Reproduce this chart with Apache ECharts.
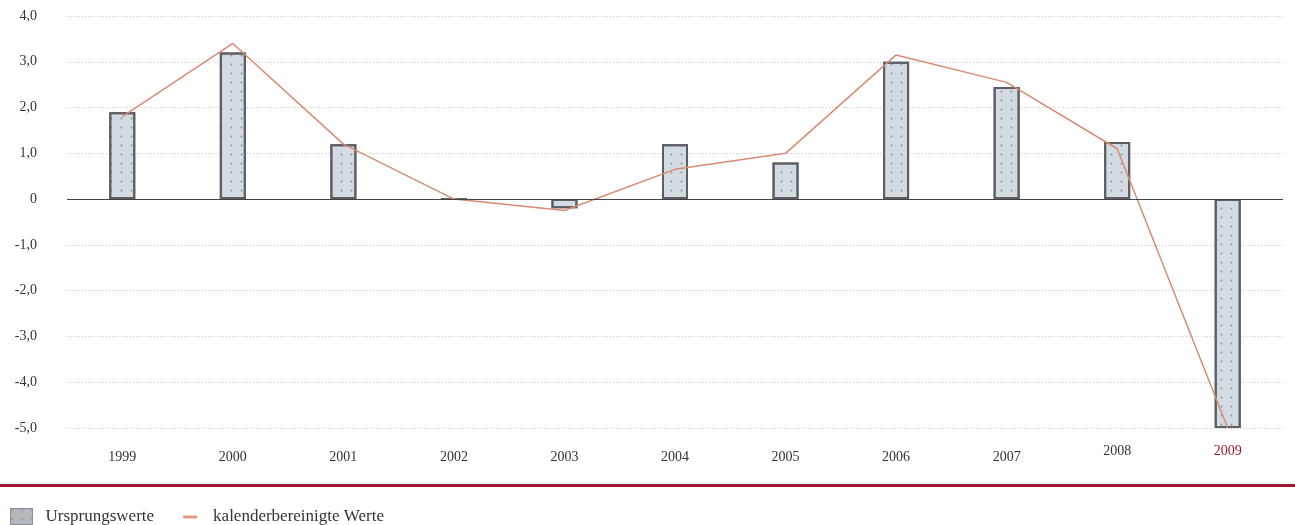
<!DOCTYPE html>
<html>
<head>
<meta charset="utf-8">
<script src="https://cdn.jsdelivr.net/npm/echarts@6/dist/echarts.min.js"></script>
<style>
  html, body { margin: 0; padding: 0; background: #fff; }
  #chart { width: 1295px; height: 525px; }
</style>
</head>
<body>
<div id="chart"></div>
<script>
const years = ['1999', '2000', '2001', '2002', '2003', '2004', '2005', '2006', '2007', '2008', '2009'];
const ursprungswerte = [1.9, 3.2, 1.2, 0, -0.2, 1.2, 0.8, 3.0, 2.45, 1.25, -5.0];
const kalenderbereinigt = [1.8, 3.4, 1.2, 0, -0.25, 0.65, 1.0, 3.15, 2.55, 1.1, -5.0];
const yTicks = [-5, -4, -3, -2, -1, 0, 1, 2, 3, 4];

const serif = '"Liberation Serif", "DejaVu Serif", serif';

const myChart = echarts.init(document.getElementById('chart'));

// short line icon with invisible corner points so it keeps its size in the legend box
const lineIcon = 'path://M0,0L0.01,0L0.01,0.01Z M22,16L22.01,16L22.01,16.01Z M0,7L14,7L14,10L0,10Z';

const option = {
  animation: false,
  grid: { left: 67, right: 12, top: 16, bottom: 97 },
  legend: {
    left: 5,
    top: 503,
    itemGap: 29,
    itemWidth: 22,
    itemHeight: 16,
    textStyle: { fontFamily: serif, fontSize: 17, color: '#333', padding: [0, 0, 0, 8] },
    data: [
      { name: 'Ursprungswerte', icon: 'rect', itemStyle: { color: '#b4b8bd', borderColor: '#8a8e94', borderWidth: 1 } },
      { name: 'kalenderbereinigte Werte', icon: lineIcon, itemStyle: { color: '#e39a80' },
        textStyle: { fontFamily: serif, fontSize: 17, color: '#333', padding: [0, 0, 0, 3] } }
    ]
  },
  graphic: [{
    type: 'rect',
    shape: { x: 0, y: 484, width: 1295, height: 3 },
    style: { fill: '#a3182e' }
  }],
  xAxis: {
    type: 'category',
    data: years,
    axisLine: { show: false, onZero: false },
    axisTick: { show: false },
    axisLabel: {
      margin: 16,
      fontFamily: serif,
      fontSize: 14,
      formatter: function (v) {
        if (v === '2009') return '{r|' + v + '}';
        if (v === '2008') return '{h|' + v + '}';
        return '{n|' + v + '}';
      },
      rich: {
        n: { color: '#333', fontFamily: serif, fontSize: 14, padding: [6, 0, 0, 0] },
        h: { color: '#333', fontFamily: serif, fontSize: 14 },
        r: { color: '#a3182e', fontFamily: serif, fontSize: 14 }
      }
    }
  },
  yAxis: {
    type: 'value',
    min: -5,
    max: 4,
    interval: 1,
    axisLine: { show: false },
    axisTick: { show: false },
    axisLabel: {
      margin: 30,
      fontFamily: serif,
      fontSize: 14,
      color: '#333',
      formatter: function (v) {
        if (yTicks.indexOf(v) < 0) return '';
        return v === 0 ? '0' : v.toFixed(1).replace('.', ',');
      }
    },
    splitLine: { lineStyle: { color: '#c8c8c8', type: [1, 2], width: 1 } }
  },
  series: [
    {
      name: 'Ursprungswerte',
      type: 'bar',
      data: ursprungswerte,
      barWidth: 26,
      itemStyle: {
        color: '#d3dbe2',
        borderColor: '#5e5e62',
        borderWidth: 2,
        decal: {
          symbol: 'circle',
          symbolSize: 0.6,
          color: 'rgba(80,95,110,0.6)',
          dashArrayX: [[3, 7]],
          dashArrayY: [3, 6],
          rotation: 0
        }
      },
      markLine: {
        silent: true,
        symbol: 'none',
        label: { show: false },
        lineStyle: { color: '#444', type: 'solid', width: 1.2 },
        data: [{ yAxis: 0 }]
      },
      z: 2
    },
    {
      name: 'kalenderbereinigte Werte',
      type: 'line',
      data: kalenderbereinigt,
      symbol: 'none',
      lineStyle: { color: '#d98a74', width: 1.5 },
      itemStyle: { color: '#e39a80' },
      z: 3
    }
  ]
};

myChart.setOption(option);
</script>
</body>
</html>
